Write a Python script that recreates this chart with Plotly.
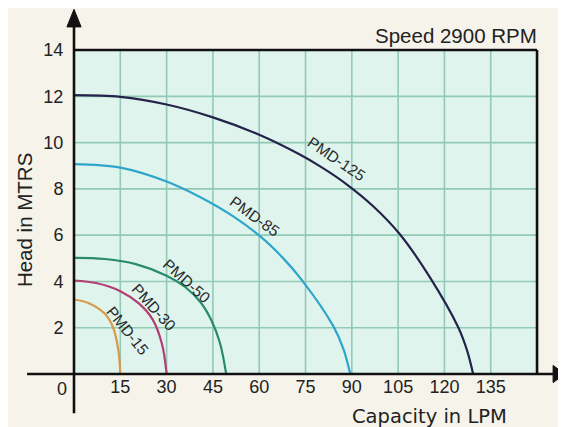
import plotly.graph_objects as go

# ---- data ----
pmd125_x = [0, 15, 30, 45, 60, 73, 80, 88, 97, 105.5, 115, 124.5, 127.3, 129.3]
pmd125_y = [12.05, 11.975, 11.645, 11.09, 10.34, 9.495, 8.95, 8.23, 7.24, 6.05, 4.24, 2.01, 1.03, 0]

pmd85_x = [0, 15, 30, 40.8, 51.6, 61.3, 67.5, 73.7, 84, 87.3, 89.5]
pmd85_y = [9.07, 8.92, 8.32, 7.65, 6.81, 5.84, 5.04, 4.08, 2.07, 1.08, 0]

pmd50_x = [0, 10, 20, 30, 36, 41, 44.5, 47.3, 49.3]
pmd50_y = [5.02, 4.97, 4.75, 4.25, 3.76, 3.1, 2.32, 1.33, 0]

pmd30_x = [0, 7.5, 15, 21, 25.5, 28.5, 30]
pmd30_y = [4.04, 3.92, 3.58, 3.05, 2.35, 1.3, 0]

pmd15_x = [0, 5, 10, 12.7, 14.4, 15]
pmd15_y = [3.22, 3.05, 2.6, 2.0, 1.0, 0]

series_names = ["PMD-125", "PMD-85", "PMD-50", "PMD-30", "PMD-15"]
x_ticks = [15, 30, 45, 60, 75, 90, 105, 120, 135]
y_ticks = [2, 4, 6, 8, 10, 12, 14]
x_grid = [15, 30, 45, 60, 75, 90, 105, 120, 135]
y_grid = [2, 4, 6, 8, 10, 12]
x_max, y_max = 150, 14

# ---- styles ----
colors = ["#24244a", "#2ea6cc", "#2a8a6c", "#b23e74", "#d99a4a"]
label_pos = [(84.9, 9.32, 34), (58.6, 6.8, 36), (36.3, 4.02, 42), (25.9, 2.86, 48), (17.3, 1.87, 51)]
cream = "#f6f3ea"
mint = "#e0f4ee"
grid_col = "#92c9b5"
font_main = "Liberation Sans, Arial, sans-serif"

X_RANGE = [-21.38, 159.38]
Y_RANGE = [-2.29, 15.817]

fig = go.Figure()
curves = [(pmd125_x, pmd125_y), (pmd85_x, pmd85_y), (pmd50_x, pmd50_y),
          (pmd30_x, pmd30_y), (pmd15_x, pmd15_y)]
for (xs, ys), name, col in zip(curves, series_names, colors):
    fig.add_trace(go.Scatter(x=xs, y=ys, mode="lines", name=name,
                             line=dict(color=col, width=2.2, shape="spline", smoothing=1.0),
                             hoverinfo="skip", showlegend=False))

shapes = []
shapes.append(dict(type="rect", xref="x", yref="y", x0=0, x1=x_max, y0=0, y1=y_max,
                   fillcolor=mint, line=dict(width=0), layer="below"))
for gx in x_grid:
    shapes.append(dict(type="line", xref="x", yref="y", x0=gx, x1=gx, y0=0, y1=y_max,
                       line=dict(color=grid_col, width=1.6), layer="below"))
for gy in y_grid:
    shapes.append(dict(type="line", xref="x", yref="y", x0=0, x1=x_max, y0=gy, y1=gy,
                       line=dict(color=grid_col, width=1.6), layer="below"))
# border top & right
shapes.append(dict(type="line", xref="x", yref="y", x0=0, x1=x_max, y0=y_max, y1=y_max,
                   line=dict(color="#111", width=2.6)))
shapes.append(dict(type="line", xref="x", yref="y", x0=x_max, x1=x_max, y0=0, y1=y_max,
                   line=dict(color="#111", width=2.6)))
# axes lines
shapes.append(dict(type="line", xref="x", yref="y", x0=-15.2, x1=155.5, y0=0, y1=0,
                   line=dict(color="#111", width=2.6)))
shapes.append(dict(type="line", xref="x", yref="y", x0=0, x1=0, y0=-1.7, y1=15.1,
                   line=dict(color="#111", width=2.6)))
# arrow heads
shapes.append(dict(type="path", xref="x", yref="y",
                   path="M -2.3 15.0 L 0 15.76 L 2.3 15.0 Z",
                   fillcolor="#111", line=dict(color="#111", width=1)))
shapes.append(dict(type="path", xref="x", yref="y",
                   path="M 155.2 0.37 L 159.0 0 L 155.2 -0.37 Z",
                   fillcolor="#111", line=dict(color="#111", width=1)))

annotations = []
for name, (lx, ly, ang) in zip(series_names, label_pos):
    annotations.append(dict(x=lx, y=ly, xref="x", yref="y", text=name, showarrow=False,
                            textangle=ang, font=dict(family=font_main, size=15.5, color="#2a2a2a")))
annotations.append(dict(x=-3.9, y=-0.65, xref="x", yref="y", text="0", showarrow=False,
                        font=dict(family=font_main, size=18, color="#222")))
annotations.append(dict(x=150.6, y=14.63, xref="x", yref="y", text="Speed 2900 RPM",
                        showarrow=False, xanchor="right", yanchor="middle",
                        font=dict(family=font_main, size=20.5, color="#222")))
annotations.append(dict(x=115.3, y=-1.82, xref="x", yref="y", text="Capacity in LPM",
                        showarrow=False, xanchor="center", yanchor="middle",
                        font=dict(family="DejaVu Sans, sans-serif", size=19.5, color="#222")))
annotations.append(dict(x=-16.2, y=6.65, xref="x", yref="y", text="Head in MTRS",
                        showarrow=False, textangle=-90,
                        font=dict(family=font_main, size=20.5, color="#222")))

y0_frac = (0 - Y_RANGE[0]) / (Y_RANGE[1] - Y_RANGE[0])
x0_frac = (0 - X_RANGE[0]) / (X_RANGE[1] - X_RANGE[0])

fig.update_layout(
    width=558, height=419,
    margin=dict(l=0, r=0, t=0, b=0),
    paper_bgcolor=cream, plot_bgcolor=cream,
    shapes=shapes, annotations=annotations,
    xaxis=dict(range=X_RANGE, showgrid=False, zeroline=False, showline=False,
               tickvals=x_ticks, ticktext=[str(v) for v in x_ticks],
               ticks="", automargin=False,
               anchor="free", position=y0_frac,
               tickfont=dict(family=font_main, size=18, color="#222")),
    yaxis=dict(range=Y_RANGE, showgrid=False, zeroline=False, showline=False,
               tickvals=y_ticks, ticktext=[str(v) for v in y_ticks],
               ticks="outside", ticklen=7, tickcolor="rgba(0,0,0,0)", automargin=False,
               anchor="free", position=x0_frac,
               tickfont=dict(family=font_main, size=18, color="#222")),
)

fig.write_html("out.html")
